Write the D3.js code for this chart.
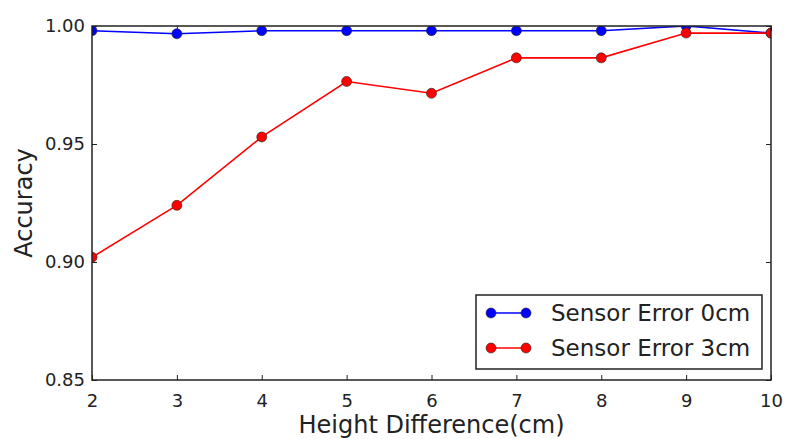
<!DOCTYPE html>
<html>
<head>
<meta charset="utf-8">
<script src="https://cdn.jsdelivr.net/npm/d3@7"></script>
<style>
  body { margin: 0; background: #fff; }
  text { font-family: "DejaVu Sans", sans-serif; fill: #222; }
</style>
</head>
<body>
<svg id="chart"></svg>
<script>
var width = 787;
var height = 439;
var margin = { top: 26, right: 15, bottom: 58, left: 92 };

// data
var heightDiff = [2, 3, 4, 5, 6, 7, 8, 9, 10];
var err0cm = [0.998, 0.9967, 0.998, 0.998, 0.998, 0.998, 0.998, 1.000, 0.997];
var err3cm = [0.902, 0.924, 0.953, 0.9765, 0.9715, 0.9865, 0.9865, 0.997, 0.997];
var xTicks = [2, 3, 4, 5, 6, 7, 8, 9, 10];
var yTicks = [0.85, 0.90, 0.95, 1.00];
var seriesNames = ["Sensor Error 0cm", "Sensor Error 3cm"];
var seriesColors = ["#0000ff", "#ff0000"];

var svg = d3.select("#chart")
  .attr("width", width)
  .attr("height", height);

var x = d3.scaleLinear().domain([2, 10]).range([margin.left, width - margin.right - 1]);
var y = d3.scaleLinear().domain([0.85, 1.0]).range([height - margin.bottom - 1, margin.top]);

svg.append("clipPath").attr("id", "plotclip")
  .append("rect")
  .attr("x", x(2)).attr("y", y(1.0))
  .attr("width", x(10) - x(2)).attr("height", y(0.85) - y(1.0));

//axes, ticks inside on all four sides
var tickLen = 5;
svg.append("g")
  .attr("transform", "translate(0," + y(0.85) + ")")
  .call(d3.axisBottom(x).tickValues(xTicks).tickSize(-tickLen).tickPadding(10).tickFormat(d3.format("d")))
  .call(function(g) {
    g.select(".domain").remove();
    g.selectAll("text").attr("font-size", "18px").attr("dy", "0.95em");
  });
svg.append("g")
  .attr("transform", "translate(0," + y(1.0) + ")")
  .call(d3.axisTop(x).tickValues(xTicks).tickSize(-tickLen).tickFormat(""))
  .call(function(g) { g.select(".domain").remove(); });
svg.append("g")
  .attr("transform", "translate(" + x(2) + ",0)")
  .call(d3.axisLeft(y).tickValues(yTicks).tickSize(-tickLen).tickPadding(7).tickFormat(d3.format(".2f")))
  .call(function(g) {
    g.select(".domain").remove();
    g.selectAll("text").attr("font-size", "18px");
  });
svg.append("g")
  .attr("transform", "translate(" + x(10) + ",0)")
  .call(d3.axisRight(y).tickValues(yTicks).tickSize(-tickLen).tickFormat(""))
  .call(function(g) { g.select(".domain").remove(); });

svg.selectAll(".tick line").attr("stroke", "#222").attr("stroke-width", 1);

var line = d3.line()
  .x(function(d, i) { return x(heightDiff[i]); })
  .y(function(d) { return y(d); });

var plot = svg.append("g").attr("clip-path", "url(#plotclip)");

[err0cm, err3cm].forEach(function(vals, k) {
  plot.append("path")
    .datum(vals)
    .attr("d", line)
    .attr("fill", "none")
    .attr("stroke", seriesColors[k])
    .attr("stroke-width", 1.6);
  plot.selectAll(".pt" + k)
    .data(vals)
    .enter()
    .append("circle")
    .attr("cx", function(d, i) { return x(heightDiff[i]); })
    .attr("cy", function(d) { return y(d); })
    .attr("r", 5)
    .attr("fill", seriesColors[k])
    .attr("stroke", "#222")
    .attr("stroke-width", 0.6);
});

// frame
svg.append("rect")
  .attr("x", x(2)).attr("y", y(1.0))
  .attr("width", x(10) - x(2)).attr("height", y(0.85) - y(1.0))
  .attr("fill", "none")
  .attr("stroke", "#222")
  .attr("stroke-width", 1.5);

// legend
var legend = svg.append("g");
legend.append("rect")
  .attr("x", 476).attr("y", 295)
  .attr("width", 286).attr("height", 74)
  .attr("fill", "#fff")
  .attr("stroke", "#222")
  .attr("stroke-width", 1.5);
seriesNames.forEach(function(name, k) {
  var ly = 313 + k * 35;
  legend.append("line")
    .attr("x1", 491).attr("x2", 526).attr("y1", ly).attr("y2", ly)
    .attr("stroke", seriesColors[k]).attr("stroke-width", 1.6);
  [491, 526].forEach(function(cx) {
    legend.append("circle")
      .attr("cx", cx).attr("cy", ly).attr("r", 5)
      .attr("fill", seriesColors[k]).attr("stroke", "#222").attr("stroke-width", 0.6);
  });
  legend.append("text")
    .attr("x", 551).attr("y", ly)
    .attr("dy", "0.36em")
    .attr("font-size", "23px")
    .text(name);
});

// axis labels
svg.append("text")
  .attr("x", (x(2) + x(10)) / 2)
  .attr("y", 433)
  .attr("text-anchor", "middle")
  .attr("font-size", "24px")
  .text("Height Difference(cm)");

svg.append("text")
  .attr("transform", "translate(32," + ((y(0.85) + y(1.0)) / 2) + ") rotate(-90)")
  .attr("text-anchor", "middle")
  .attr("font-size", "24px")
  .text("Accuracy");
</script>
</body>
</html>
